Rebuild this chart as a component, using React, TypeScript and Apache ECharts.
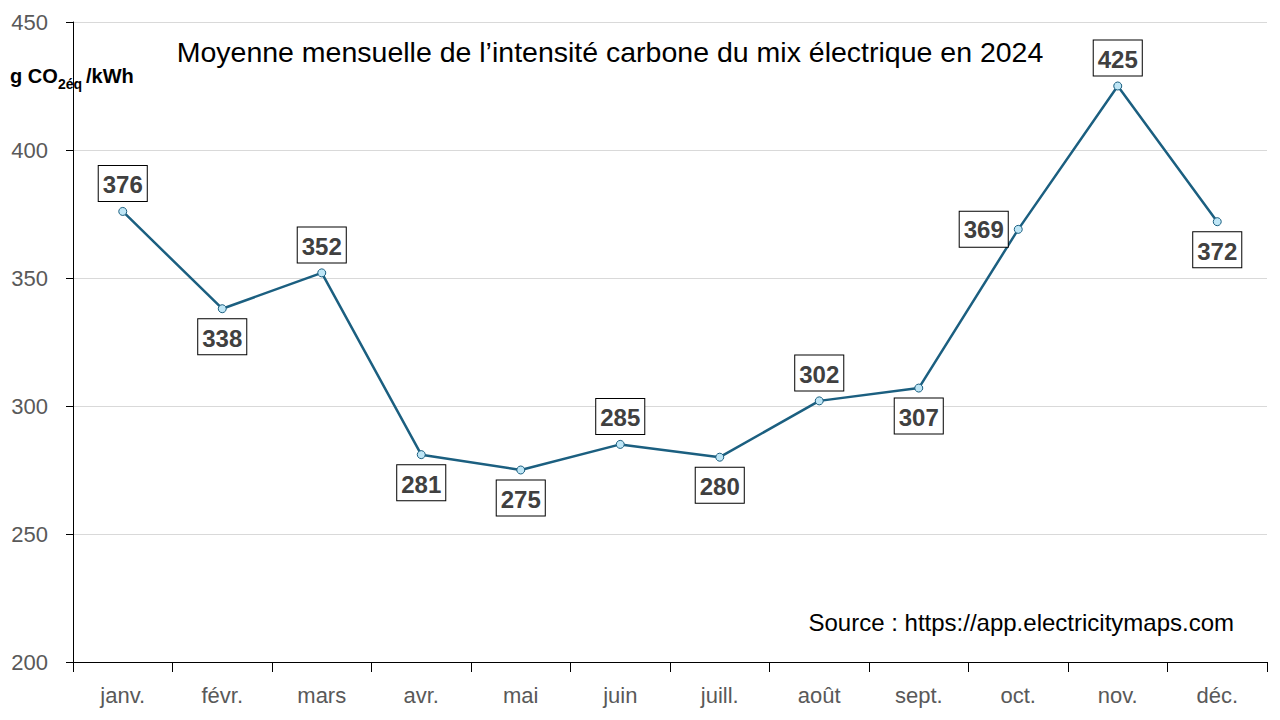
import React, { useEffect, useRef } from "react";
import * as echarts from "echarts";

const months = ["janv.", "févr.", "mars", "avr.", "mai", "juin", "juill.", "août", "sept.", "oct.", "nov.", "déc."];
const intensity = [376, 338, 352, 281, 275, 285, 280, 302, 307, 369, 425, 372];
const labelPositions = ["top", "bottom", "top", "bottom", "bottom", "top", "bottom", "top", "bottom", "left", "top", "bottom"];
const titleText = "Moyenne mensuelle de l’intensité carbone du mix électrique en 2024";
const sourceText = "Source : https://app.electricitymaps.com";

const FONT = "'Liberation Sans', Arial, sans-serif";

export default function App() {
  const ref = useRef<HTMLDivElement>(null);
  useEffect(() => {
    if (!ref.current) return;
    const chart = echarts.init(ref.current, null, { renderer: "svg" });
    chart.setOption({
      animation: false,
      backgroundColor: "#ffffff",
      textStyle: { fontFamily: FONT },
      grid: { left: 73, right: 13, top: 22, bottom: 58, containLabel: false },
      xAxis: {
        type: "category",
        data: months,
        boundaryGap: true,
        axisLine: { lineStyle: { color: "#000000", width: 1 } },
        axisTick: { show: true, length: 10, lineStyle: { color: "#000000" } },
        axisLabel: { color: "#595959", fontSize: 22, margin: 22, fontFamily: FONT },
        splitLine: { show: false },
      },
      yAxis: {
        type: "value",
        min: 200,
        max: 450,
        interval: 50,
        axisLine: { show: true, lineStyle: { color: "#000000", width: 1 } },
        axisTick: { show: true, length: 7, lineStyle: { color: "#000000" } },
        axisLabel: { color: "#595959", fontSize: 22, margin: 25, fontFamily: FONT },
        splitLine: { show: true, lineStyle: { color: "#d9d9d9", width: 1 } },
      },
      series: [
        {
          type: "line",
          data: intensity.map((v, i) => ({
            value: v,
            label: { position: labelPositions[i] },
          })),
          symbol: "circle",
          symbolSize: 8,
          lineStyle: { color: "#1b5f80", width: 2.5 },
          itemStyle: { color: "#bfe6f6", borderColor: "#1b5f80", borderWidth: 1 },
          label: {
            show: true,
            distance: 6,
            fontSize: 24,
            fontWeight: "bold",
            color: "#404040",
            fontFamily: FONT,
            backgroundColor: "#ffffff",
            borderColor: "#000000",
            borderWidth: 1,
            padding: [7, 4, 4, 4],
          },
          z: 3,
        },
      ],
      graphic: [
        {
          type: "text",
          x: 610,
          y: 52,
          style: { text: titleText, fontSize: 28.5, fill: "#000000", fontFamily: FONT, align: "center", verticalAlign: "middle" },
        },
        {
          type: "text",
          x: 1234,
          y: 622,
          style: { text: sourceText, fontSize: 24, fill: "#000000", fontFamily: FONT, align: "right", verticalAlign: "middle" },
        },
        {
          type: "group",
          left: 8,
          top: 58,
          children: [
            { type: "rect", shape: { x: 0, y: 0, width: 134, height: 36 }, style: { fill: "#ffffff" } },
            { type: "text", x: 2, y: 8, style: { text: "g CO", fontSize: 20, fontWeight: "bold", fill: "#000000", fontFamily: FONT } },
            { type: "text", x: 50, y: 19, style: { text: "2éq", fontSize: 14, fontWeight: "bold", fill: "#000000", fontFamily: FONT } },
            { type: "text", x: 78, y: 8, style: { text: "/kWh", fontSize: 20, fontWeight: "bold", fill: "#000000", fontFamily: FONT } },
          ],
        },
      ],
    });
    return () => chart.dispose();
  }, []);
  return <div ref={ref} style={{ width: 1280, height: 720, position: "absolute", left: 0, top: 0 }} />;
}
